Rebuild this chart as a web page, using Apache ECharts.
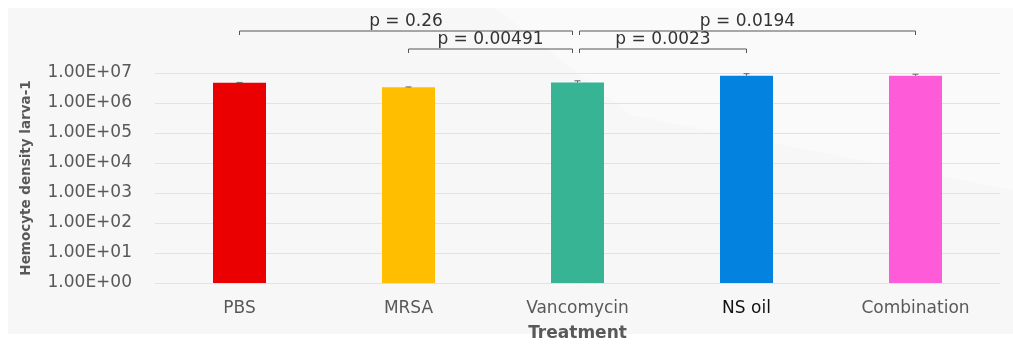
<!DOCTYPE html>
<html>
<head>
<meta charset="utf-8">
<style>html,body{margin:0;padding:0;background:#fff}#c{width:1013px;height:344px}</style>
<script src="https://cdn.jsdelivr.net/npm/echarts@6/dist/echarts.min.js"></script>
</head>
<body>
<div id="c"></div>
<script>
// ---- data ----
const categories = ['PBS', 'MRSA', 'Vancomycin', 'NS oil', 'Combination'];
const meanValues = [4.75e6, 3.33e6, 4.8e6, 8.1e6, 8.1e6];
const errorUpper = [4.85e6, 3.43e6, 5.5e6, 9.5e6, 9.1e6];
const barColors = ['#ea0000', '#ffbf00', '#37b494', '#0382df', '#fe5bd9'];
const yTickLabels = ['1.00E+00','1.00E+01','1.00E+02','1.00E+03','1.00E+04','1.00E+05','1.00E+06','1.00E+07'];
const bracketFrom = [0, 1, 2, 2];
const bracketTo = [2, 2, 3, 4];
const bracketLevel = [2, 1, 1, 2];
const pValues = ['0.26', '0.00491', '0.0023', '0.0194'];

const FONT = 'DejaVu Sans';
const chart = echarts.init(document.getElementById('c'));

const bracketData = bracketFrom.map((f, i) => [f, 1e7, bracketTo[i], bracketLevel[i], i]);
const errData = categories.map((c, i) => [i, meanValues[i], errorUpper[i]]);

function shared(idx, self) {
  return bracketFrom.some((f, j) => j !== self && (f === idx || bracketTo[j] === idx));
}

chart.setOption({
  backgroundColor: '#ffffff',
  animation: false,
  graphic: [
    { type: 'rect', z: -10, shape: { x: 8, y: 8, width: 1005, height: 326 }, style: { fill: '#f7f7f7' } },
    { type: 'polygon', z: -9, shape: { points: [[495, 8], [1013, 8], [1013, 190], [630, 115]] }, style: { fill: '#fafafa' } }
  ],
  grid: { left: 155, right: 13, top: 73, bottom: 61, containLabel: false, outerBoundsMode: 'none' },
  xAxis: {
    type: 'category',
    data: categories,
    name: 'Treatment',
    nameLocation: 'middle',
    nameGap: 42,
    nameTextStyle: { fontFamily: FONT, fontWeight: 'bold', fontSize: 17, color: '#595959' },
    axisLine: { show: false },
    axisTick: { show: false },
    axisLabel: {
      margin: 17,
      fontFamily: FONT, fontSize: 17, color: '#595959',
      formatter: v => v === 'NS oil' ? '{d|' + v + '}' : v,
      rich: { d: { fontFamily: FONT, fontSize: 17, color: '#111111' } }
    }
  },
  yAxis: {
    type: 'log',
    logBase: 10,
    min: 1,
    max: 1e7,
    splitNumber: 7,
    name: 'Hemocyte density larva-1',
    nameLocation: 'middle',
    nameGap: 122,
    nameTextStyle: { fontFamily: FONT, fontWeight: 'bold', fontSize: 13.5, color: '#595959' },
    axisLine: { show: false },
    axisTick: { show: false },
    splitLine: { show: true, lineStyle: { color: '#e2e2e2', width: 1 } },
    axisLabel: {
      margin: 23,
      fontFamily: FONT, fontSize: 17, color: '#595959',
      formatter: v => {
        const e = Math.round(Math.log10(v));
        return yTickLabels[e] !== undefined ? yTickLabels[e] : '';
      }
    }
  },
  series: [
    {
      type: 'bar',
      barWidth: 53,
      data: meanValues.map((v, i) => ({ value: v, itemStyle: { color: barColors[i] } }))
    },
    {
      type: 'custom',
      z: 5,
      data: errData,
      encode: { x: 0, y: 1 },
      renderItem: (params, api) => {
        const i = api.value(0);
        const p0 = api.coord([i, api.value(1)]);
        const p1 = api.coord([i, api.value(2)]);
        const st = { stroke: '#666666', lineWidth: 1 };
        return {
          type: 'group',
          children: [
            { type: 'line', shape: { x1: p0[0], y1: p0[1], x2: p1[0], y2: p1[1] }, style: st },
            { type: 'line', shape: { x1: p1[0] - 3, y1: p1[1], x2: p1[0] + 3, y2: p1[1] }, style: st }
          ]
        };
      }
    },
    {
      type: 'custom',
      z: 6,
      data: bracketData,
      encode: { x: 0, y: 1 },
      renderItem: (params, api) => {
        const k = api.value(4);
        const f = api.value(0), t = api.value(2), lvl = api.value(3);
        const top = params.coordSys.y;
        const y = top - (lvl === 2 ? 42 : 24);
        let x1 = api.coord([f, 1])[0];
        let x2 = api.coord([t, 1])[0];
        if (shared(f, k)) x1 += 2;
        if (shared(t, k)) x2 -= 5;
        const st = { stroke: '#555555', lineWidth: 1, fill: null };
        return {
          type: 'group',
          children: [
            { type: 'polyline', shape: { points: [[x1, y + 4], [x1, y], [x2, y], [x2, y + 4]] }, style: st },
            { type: 'text', style: { text: 'p = ' + pValues[k], x: (x1 + x2) / 2, y: y - 1, textAlign: 'center', textVerticalAlign: 'bottom', fontFamily: FONT, fontSize: 17, fill: '#333333' } }
          ]
        };
      }
    }
  ]
});
</script>
</body>
</html>
